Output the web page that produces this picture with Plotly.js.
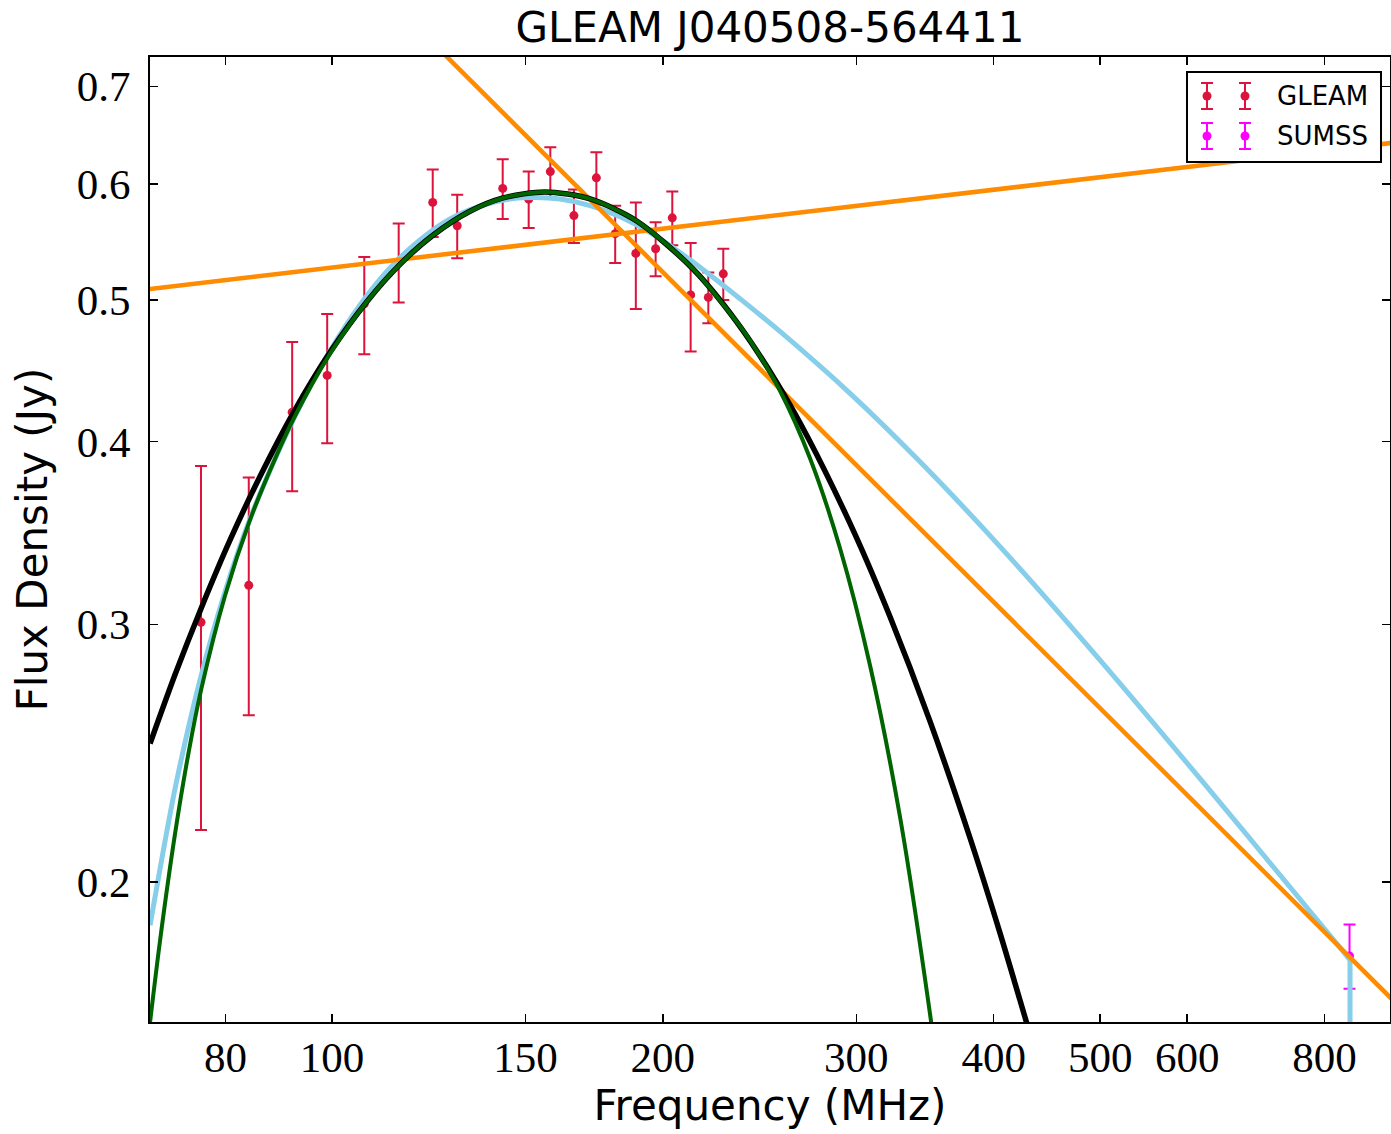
<!DOCTYPE html>
<html><head><meta charset="utf-8">
<script src="https://cdn.plot.ly/plotly-3.0.1.min.js"></script>
<style>html,body{margin:0;padding:0;background:#fff}</style>
</head><body>
<div id="chart" style="width:1391px;height:1134px"></div>
<script>
// ---- data ----
const gleamFreq = [76, 84, 92, 99, 107, 115, 123.5, 130, 143, 151, 158, 166, 174, 181, 189, 197, 204, 212, 220, 227];
const gleamFlux = [0.301, 0.319, 0.419, 0.444, 0.497, 0.531, 0.583, 0.562, 0.596, 0.586, 0.612, 0.571, 0.606, 0.555, 0.538, 0.542, 0.569, 0.504, 0.502, 0.521];
const gleamErr  = [0.084, 0.059, 0.049, 0.045, 0.038, 0.033, 0.031, 0.028, 0.028, 0.026, 0.024, 0.024, 0.025, 0.025, 0.045, 0.023, 0.024, 0.043, 0.020, 0.021];

const sumssFreq = [843];
const sumssFlux = [0.178];
const sumssErr  = [0.009];

const blackFreq = [68.31, 71.97, 76.00, 80.76, 86.02, 92.35, 99.58, 107.61, 115.31, 123.56, 133.52, 143.11, 156.25, 171.74, 189.48, 213.06, 233.63, 254.03, 271.09, 299.16, 321.93, 350.07, 380.67, 405.35, 431.65];
const blackFlux = [0.2487, 0.2771, 0.3075, 0.3425, 0.3788, 0.4194, 0.4604, 0.4988, 0.5288, 0.5536, 0.5749, 0.5871, 0.5927, 0.5862, 0.5660, 0.5250, 0.4827, 0.4388, 0.4025, 0.3457, 0.3036, 0.2575, 0.2143, 0.1845, 0.1573];

const greenFreq = [68.31, 69.75, 71.97, 74.12, 76.00, 79.90, 84.20, 88.75, 92.35, 99.58, 107.61, 115.31, 123.56, 133.52, 143.11, 156.25, 171.74, 189.48, 213.06, 233.63, 240.06, 255.63, 272.23, 289.90, 308.69, 328.74, 350.07, 354.50];
const greenFlux = [0.1604, 0.1823, 0.2156, 0.2461, 0.2704, 0.3136, 0.3535, 0.3893, 0.4152, 0.4593, 0.4988, 0.5288, 0.5536, 0.5749, 0.5871, 0.5927, 0.5862, 0.5660, 0.5250, 0.4827, 0.4691, 0.4334, 0.3897, 0.3382, 0.2813, 0.2215, 0.1624, 0.1510];

const blueFreq = [68.31, 71.97, 75.84, 79.90, 84.20, 88.75, 93.52, 99.58, 106.04, 112.91, 120.24, 128.04, 136.34, 145.20, 153.01, 161.24, 171.74, 182.85, 194.72, 207.33, 220.78, 235.10, 255.63, 296.04, 342.82, 405.35, 499.8, 616.4, 760.0, 843.9];
const blueFlux = [0.1868, 0.2315, 0.2748, 0.3156, 0.3540, 0.3893, 0.4231, 0.4614, 0.4961, 0.5259, 0.5495, 0.5680, 0.5797, 0.5862, 0.5876, 0.5861, 0.5801, 0.5699, 0.5559, 0.5388, 0.5201, 0.5010, 0.4758, 0.4316, 0.3875, 0.3391, 0.2836, 0.2353, 0.1946, 0.1769];
const blueDropFreq = [843.9, 843.9];
const blueDropFlux = [0.1769, 0.12];

const orangeSteepFreq = [120, 950];
const orangeSteepFlux = [0.766, 0.1625];
const orangeFlatFreq = [65, 950];
const orangeFlatFlux = [0.5065, 0.642];

const xTicks = [80, 100, 150, 200, 300, 400, 500, 600, 800];
const yTicks = [0.2, 0.3, 0.4, 0.5, 0.6, 0.7];
const seriesNames = ['GLEAM', 'SUMSS'];
const seriesColors = ['#DC143C', '#FF00FF'];

// ---- traces ----
const traces = [
  {x: gleamFreq, y: gleamFlux, type: 'scatter', mode: 'markers', name: seriesNames[0], showlegend: false,
   marker: {color: seriesColors[0], size: 9},
   error_y: {type: 'data', array: gleamErr, visible: true, color: seriesColors[0], thickness: 2, width: 6}},
  {x: sumssFreq, y: sumssFlux, type: 'scatter', mode: 'markers', name: seriesNames[1], showlegend: false,
   marker: {color: seriesColors[1], size: 9},
   error_y: {type: 'data', array: sumssErr, visible: true, color: seriesColors[1], thickness: 2, width: 6}},
  {x: blueFreq, y: blueFlux, type: 'scatter', mode: 'lines', showlegend: false, line: {color: '#87CEEB', width: 5, shape: 'spline', smoothing: 0.8}},
  {x: blueDropFreq, y: blueDropFlux, type: 'scatter', mode: 'lines', showlegend: false, line: {color: '#87CEEB', width: 5}},
  {x: orangeSteepFreq, y: orangeSteepFlux, type: 'scatter', mode: 'lines', showlegend: false, line: {color: '#FF8C00', width: 4.5}},
  {x: orangeFlatFreq, y: orangeFlatFlux, type: 'scatter', mode: 'lines', showlegend: false, line: {color: '#FF8C00', width: 4.5}},
  {x: blackFreq, y: blackFlux, type: 'scatter', mode: 'lines', showlegend: false, line: {color: '#000000', width: 5.5, shape: 'spline', smoothing: 0.8}},
  {x: greenFreq, y: greenFlux, type: 'scatter', mode: 'lines', showlegend: false, line: {color: '#006400', width: 4, shape: 'spline', smoothing: 0.8}}
];

// ---- manual legend (matplotlib style, two points per entry) ----
const L = 150, T = 57, W = 1240, H = 965;
const X = px => (px - L) / W;
const Y = py => 1 - (py - T) / H;
const shapes = [{type: 'rect', xref: 'paper', yref: 'paper', x0: X(1187), x1: X(1381), y0: Y(162), y1: Y(72),
  line: {color: '#000', width: 2}, fillcolor: '#fff', layer: 'above'}];
const annotations = [];
const rowsY = [96, 136];
seriesNames.forEach((nm, i) => {
  const py = rowsY[i], c = seriesColors[i];
  [1207, 1245].forEach(mx => {
    shapes.push({type: 'line', xref: 'paper', yref: 'paper', x0: X(mx), x1: X(mx), y0: Y(py - 13), y1: Y(py + 13), line: {color: c, width: 2}, layer: 'above'});
    shapes.push({type: 'line', xref: 'paper', yref: 'paper', x0: X(mx - 6), x1: X(mx + 6), y0: Y(py - 13), y1: Y(py - 13), line: {color: c, width: 2}, layer: 'above'});
    shapes.push({type: 'line', xref: 'paper', yref: 'paper', x0: X(mx - 6), x1: X(mx + 6), y0: Y(py + 13), y1: Y(py + 13), line: {color: c, width: 2}, layer: 'above'});
    shapes.push({type: 'circle', xref: 'paper', yref: 'paper', xsizemode: 'pixel', ysizemode: 'pixel',
      xanchor: X(mx), yanchor: Y(py), x0: -4.5, x1: 4.5, y0: -4.5, y1: 4.5, fillcolor: c, line: {color: c, width: 0}, layer: 'above'});
  });
  annotations.push({xref: 'paper', yref: 'paper', x: X(1275), y: Y(py), xanchor: 'left', yanchor: 'middle', showarrow: false,
    text: nm, font: {family: 'DejaVu Sans', size: 26, color: '#000'}});
});

const axisCommon = {
  ticks: 'inside', ticklen: 8, tickwidth: 1.5, tickcolor: '#000',
  showline: true, linecolor: '#000', linewidth: 2, mirror: 'allticks',
  showgrid: false, zeroline: false, automargin: false,
  tickfont: {family: 'Liberation Serif', size: 43, color: '#000'}
};

const layout = {
  width: 1391, height: 1134,
  margin: {l: L, r: 1391 - L - W, t: T, b: 1134 - T - H},
  paper_bgcolor: '#fff', plot_bgcolor: '#fff',
  title: {text: 'GLEAM J040508-564411', font: {family: 'DejaVu Sans', size: 42, color: '#000'},
          x: 0.5, xref: 'paper', y: 1 - 27 / 1134, yref: 'container', xanchor: 'center', yanchor: 'middle'},
  xaxis: Object.assign({}, axisCommon, {
    type: 'log', range: [Math.log10(68.3), Math.log10(917.6)],
    tickvals: xTicks, ticktext: xTicks.map(String), ticklabelstandoff: -4,
    title: {text: 'Frequency (MHz)', font: {family: 'DejaVu Sans', size: 42, color: '#000'}, standoff: 10}
  }),
  yaxis: Object.assign({}, axisCommon, {
    type: 'log', range: [Math.log10(0.1604), Math.log10(0.733)],
    tickvals: yTicks, ticktext: yTicks.map(v => v.toFixed(1)), ticklabelstandoff: 9,
    title: {text: 'Flux Density (Jy)', font: {family: 'DejaVu Sans', size: 42, color: '#000'}, standoff: 16}
  }),
  shapes: shapes,
  annotations: annotations,
  showlegend: false
};

Plotly.newPlot('chart', traces, layout, {displayModeBar: false, staticPlot: true});
</script>
</body></html>
